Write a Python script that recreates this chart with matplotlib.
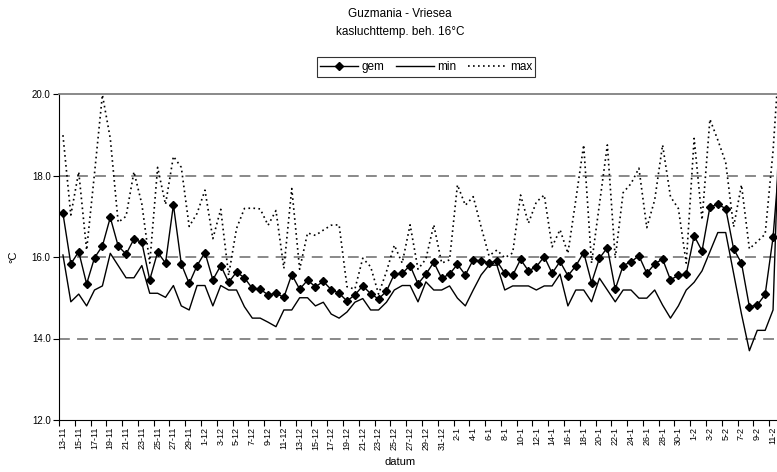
import matplotlib
matplotlib.use("Agg")
import matplotlib.pyplot as plt
from matplotlib.lines import Line2D

plt.rcParams['font.family'] = ['Liberation Sans', 'DejaVu Sans']

dates = ["13-11", "14-11", "15-11", "16-11", "17-11", "18-11", "19-11", "20-11", "21-11", "22-11",
         "23-11", "24-11", "25-11", "26-11", "27-11", "28-11", "29-11", "30-11",
         "1-12", "2-12", "3-12", "4-12", "5-12", "6-12", "7-12", "8-12", "9-12", "10-12",
         "11-12", "12-12", "13-12", "14-12", "15-12", "16-12", "17-12", "18-12", "19-12", "20-12",
         "21-12", "22-12", "23-12", "24-12", "25-12", "26-12", "27-12", "28-12", "29-12", "30-12", "31-12",
         "1-1", "2-1", "3-1", "4-1", "5-1", "6-1", "7-1", "8-1", "9-1", "10-1",
         "11-1", "12-1", "13-1", "14-1", "15-1", "16-1", "17-1", "18-1", "19-1", "20-1",
         "21-1", "22-1", "23-1", "24-1", "25-1", "26-1", "27-1", "28-1", "29-1", "30-1", "31-1",
         "1-2", "2-2", "3-2", "4-2", "5-2", "6-2", "7-2", "8-2", "9-2", "10-2", "11-2", "12-2"]

gem = [17.07, 15.83, 16.13, 15.34, 15.98, 16.27, 16.97, 16.27, 16.07, 16.44,
       16.36, 15.44, 16.12, 15.85, 17.28, 15.83, 15.35, 15.79, 16.11, 15.44,
       15.79, 15.38, 15.63, 15.49, 15.23, 15.21, 15.07, 15.11, 15.01, 15.57,
       15.21, 15.43, 15.27, 15.40, 15.20, 15.11, 14.92, 15.07, 15.29, 15.10,
       14.97, 15.16, 15.58, 15.60, 15.79, 15.34, 15.58, 15.87, 15.48, 15.58,
       15.82, 15.56, 15.93, 15.90, 15.86, 15.90, 15.60, 15.55, 15.94, 15.66,
       15.76, 16.01, 15.60, 15.89, 15.54, 15.78, 16.11, 15.37, 15.97, 16.23,
       15.21, 15.79, 15.88, 16.03, 15.60, 15.83, 15.95, 15.44, 15.55, 15.58,
       16.52, 16.15, 17.23, 17.29, 17.19, 16.20, 15.85, 14.78, 14.82, 15.08,
       16.48, 18.90]

tmin = [16.05, 14.90, 15.09, 14.80, 15.19, 15.29, 16.09, 15.79, 15.49, 15.49,
        15.79, 15.11, 15.11, 15.01, 15.30, 14.80, 14.70, 15.30, 15.30, 14.80,
        15.30, 15.19, 15.19, 14.78, 14.50, 14.50, 14.40, 14.29, 14.70, 14.70,
        15.00, 15.00, 14.80, 14.89, 14.60, 14.50, 14.65, 14.89, 14.98, 14.70,
        14.70, 14.89, 15.19, 15.30, 15.30, 14.90, 15.39, 15.19, 15.19, 15.29,
        14.99, 14.80, 15.19, 15.56, 15.80, 15.80, 15.19, 15.29, 15.29, 15.29,
        15.19, 15.29, 15.29, 15.58, 14.80, 15.19, 15.19, 14.90, 15.48, 15.19,
        14.90, 15.19, 15.19, 14.99, 14.99, 15.19, 14.82, 14.50, 14.80, 15.19,
        15.38, 15.66, 16.13, 16.60, 16.60, 15.60, 14.60, 13.70, 14.20, 14.20,
        14.70, 20.60]

tmax = [18.99, 17.03, 18.09, 16.17, 18.05, 19.98, 18.91, 16.85, 17.00, 18.09,
        17.30, 15.85, 18.20, 17.29, 18.47, 18.20, 16.75, 17.07, 17.64, 16.45,
        17.17, 15.55, 16.70, 17.19, 17.20, 17.18, 16.78, 17.14, 15.72, 17.68,
        15.70, 16.59, 16.53, 16.66, 16.78, 16.79, 15.27, 15.21, 15.97, 15.76,
        15.09, 15.64, 16.29, 15.85, 16.79, 15.70, 15.95, 16.79, 15.85, 15.93,
        17.77, 17.27, 17.48, 16.74, 16.03, 16.17, 15.98, 16.10, 17.52, 16.83,
        17.35, 17.52, 16.25, 16.67, 16.09, 17.40, 18.75, 15.85, 17.30, 18.75,
        15.97, 17.58, 17.80, 18.18, 16.72, 17.40, 18.75, 17.48, 17.19, 15.85,
        18.91, 16.91, 19.38, 18.87, 18.32, 16.74, 17.77, 16.20, 16.38, 16.56,
        18.60, 21.50]

yticks = [12.0, 14.0, 16.0, 18.0, 20.0]

W, H = 777, 472
fig = plt.figure(figsize=(W / 100, H / 100), dpi=100)
n = len(dates)
px_per_cat = 7.89
left_px, top_px, bottom_px = 59, 94, 420
right_px = left_px + n * px_per_cat
ax = fig.add_axes([left_px / W, 1 - bottom_px / H, (right_px - left_px) / W, (bottom_px - top_px) / H])

x = list(range(n))
ax.plot(x, tmax, color='black', lw=1.2, linestyle=(0, (1, 2)), zorder=3)
ax.plot(x, tmin, color='black', lw=1.0, zorder=3)
ax.plot(x, gem, color='black', lw=1.0, marker='D', markersize=4.5, zorder=4)

ax.set_xlim(-0.5, n - 0.5)
ax.set_ylim(12, 20)

for v in [14, 16, 18]:
    ax.axhline(v, color='#808080', lw=1.3, linestyle=(0, (6, 4)), zorder=1)

ax.spines['top'].set_color('#808080')
ax.spines['top'].set_linewidth(1.3)
ax.spines['right'].set_visible(False)
ax.spines['left'].set_color('black')
ax.spines['bottom'].set_color('black')

ax.set_yticks(yticks)
ax.set_yticklabels([f"{v:.1f}" for v in yticks], fontsize=7)
ax.tick_params(axis='y', length=4, width=0.8, pad=2)

ax.set_xticks([i - 0.5 for i in range(0, n + 1, 2)])
ax.set_xticklabels([])
ax.tick_params(axis='x', which='major', length=4, width=0.8)
ax.set_xticks(list(range(0, n, 2)), minor=True)
ax.set_xticklabels([dates[i] for i in range(0, n, 2)], minor=True, rotation=90, fontsize=6.5)
ax.tick_params(axis='x', which='minor', length=0, pad=5)

ax.set_ylabel("°C", fontsize=8, labelpad=10)
fig.text(400 / W, 1 - 462 / H, "datum", ha='center', va='center', fontsize=8)

fig.text(400 / W, 1 - 14 / H, "Guzmania - Vriesea", ha='center', va='center', fontsize=8.5)
fig.text(400 / W, 1 - 32 / H, "kasluchttemp. beh. 16°C", ha='center', va='center', fontsize=8.5)

handles = [
    Line2D([], [], color='black', lw=1.0, marker='D', markersize=4.5),
    Line2D([], [], color='black', lw=1.0),
    Line2D([], [], color='black', lw=1.2, linestyle=(0, (1, 2))),
]
leg = fig.legend(handles, ["gem", "min", "max"], loc='center', bbox_to_anchor=(426 / W, 1 - 67 / H),
                 ncol=3, fontsize=8.5, frameon=True, fancybox=False, edgecolor='black',
                 handlelength=3.2, handletextpad=0.3, columnspacing=1.0, borderpad=0.3,
                 borderaxespad=0)
leg.get_frame().set_linewidth(0.8)

fig.savefig("out.png", dpi=100)
